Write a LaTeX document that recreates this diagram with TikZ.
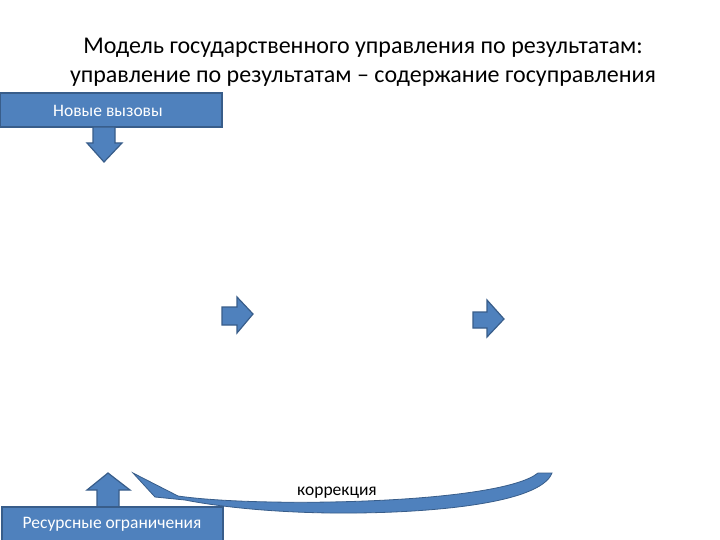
\documentclass[tikz,border=0pt]{standalone}
\usepackage{fontspec}
\setmainfont{Carlito}
\definecolor{boxfill}{HTML}{4F81BD}
\definecolor{boxline}{HTML}{385D8A}
\tikzset{
  blk/.style={fill=boxfill,draw=boxline,line width=1.2pt,line join=miter},
  lbl/.style={font=\fontsize{17.5}{20}\selectfont,text=white},
}
\begin{document}
\begin{tikzpicture}[x=1pt,y=-1pt]
\useasboundingbox (0,0) rectangle (720,540);
\fill[white] (0,0) rectangle (720,540);
% title
\node[font=\fontsize{24}{29}\selectfont,align=center] (title) at (363,62)
  {Модель государственного управления по результатам:\\управление по результатам – содержание госуправления};
% top box
\draw[blk] (0,93) rectangle (222,127);
\node[lbl] (new) at (108,111) {Новые вызовы};
% down arrow
\draw[blk] (93,127) -- (115,127) -- (115,143) -- (122,143) -- (104,162) -- (87,143) -- (93,143) -- cycle;
% right arrows
\draw[blk] (222,307) -- (237,307) -- (237,297) -- (253,314) -- (237,333) -- (237,325) -- (222,325) -- cycle;
\draw[blk] (473,312) -- (487,312) -- (487,300) -- (504,319) -- (487,337) -- (487,328) -- (473,328) -- cycle;
% curved arrow
\draw[blk,line width=0.8pt] (133,473) -- (178,496) .. controls (260,508) and (500,504) .. (538,473) -- (552,473)
   .. controls (540,505) and (420,514) .. (330,513) .. controls (260,512) and (210,505) .. (185,500) -- (155,497) -- cycle;
\node[font=\fontsize{17.5}{20}\selectfont] (corr) at (337,493) {коррекция};
% up arrow
\draw[blk] (97,507) -- (97,490) -- (87,490) -- (108,473) -- (130,490) -- (119,490) -- (119,507) -- cycle;
% bottom box
\draw[blk] (2,507) rectangle (223,541);
\node[lbl] (res) at (112,524) {Ресурсные ограничения};
\end{tikzpicture}
\end{document}
